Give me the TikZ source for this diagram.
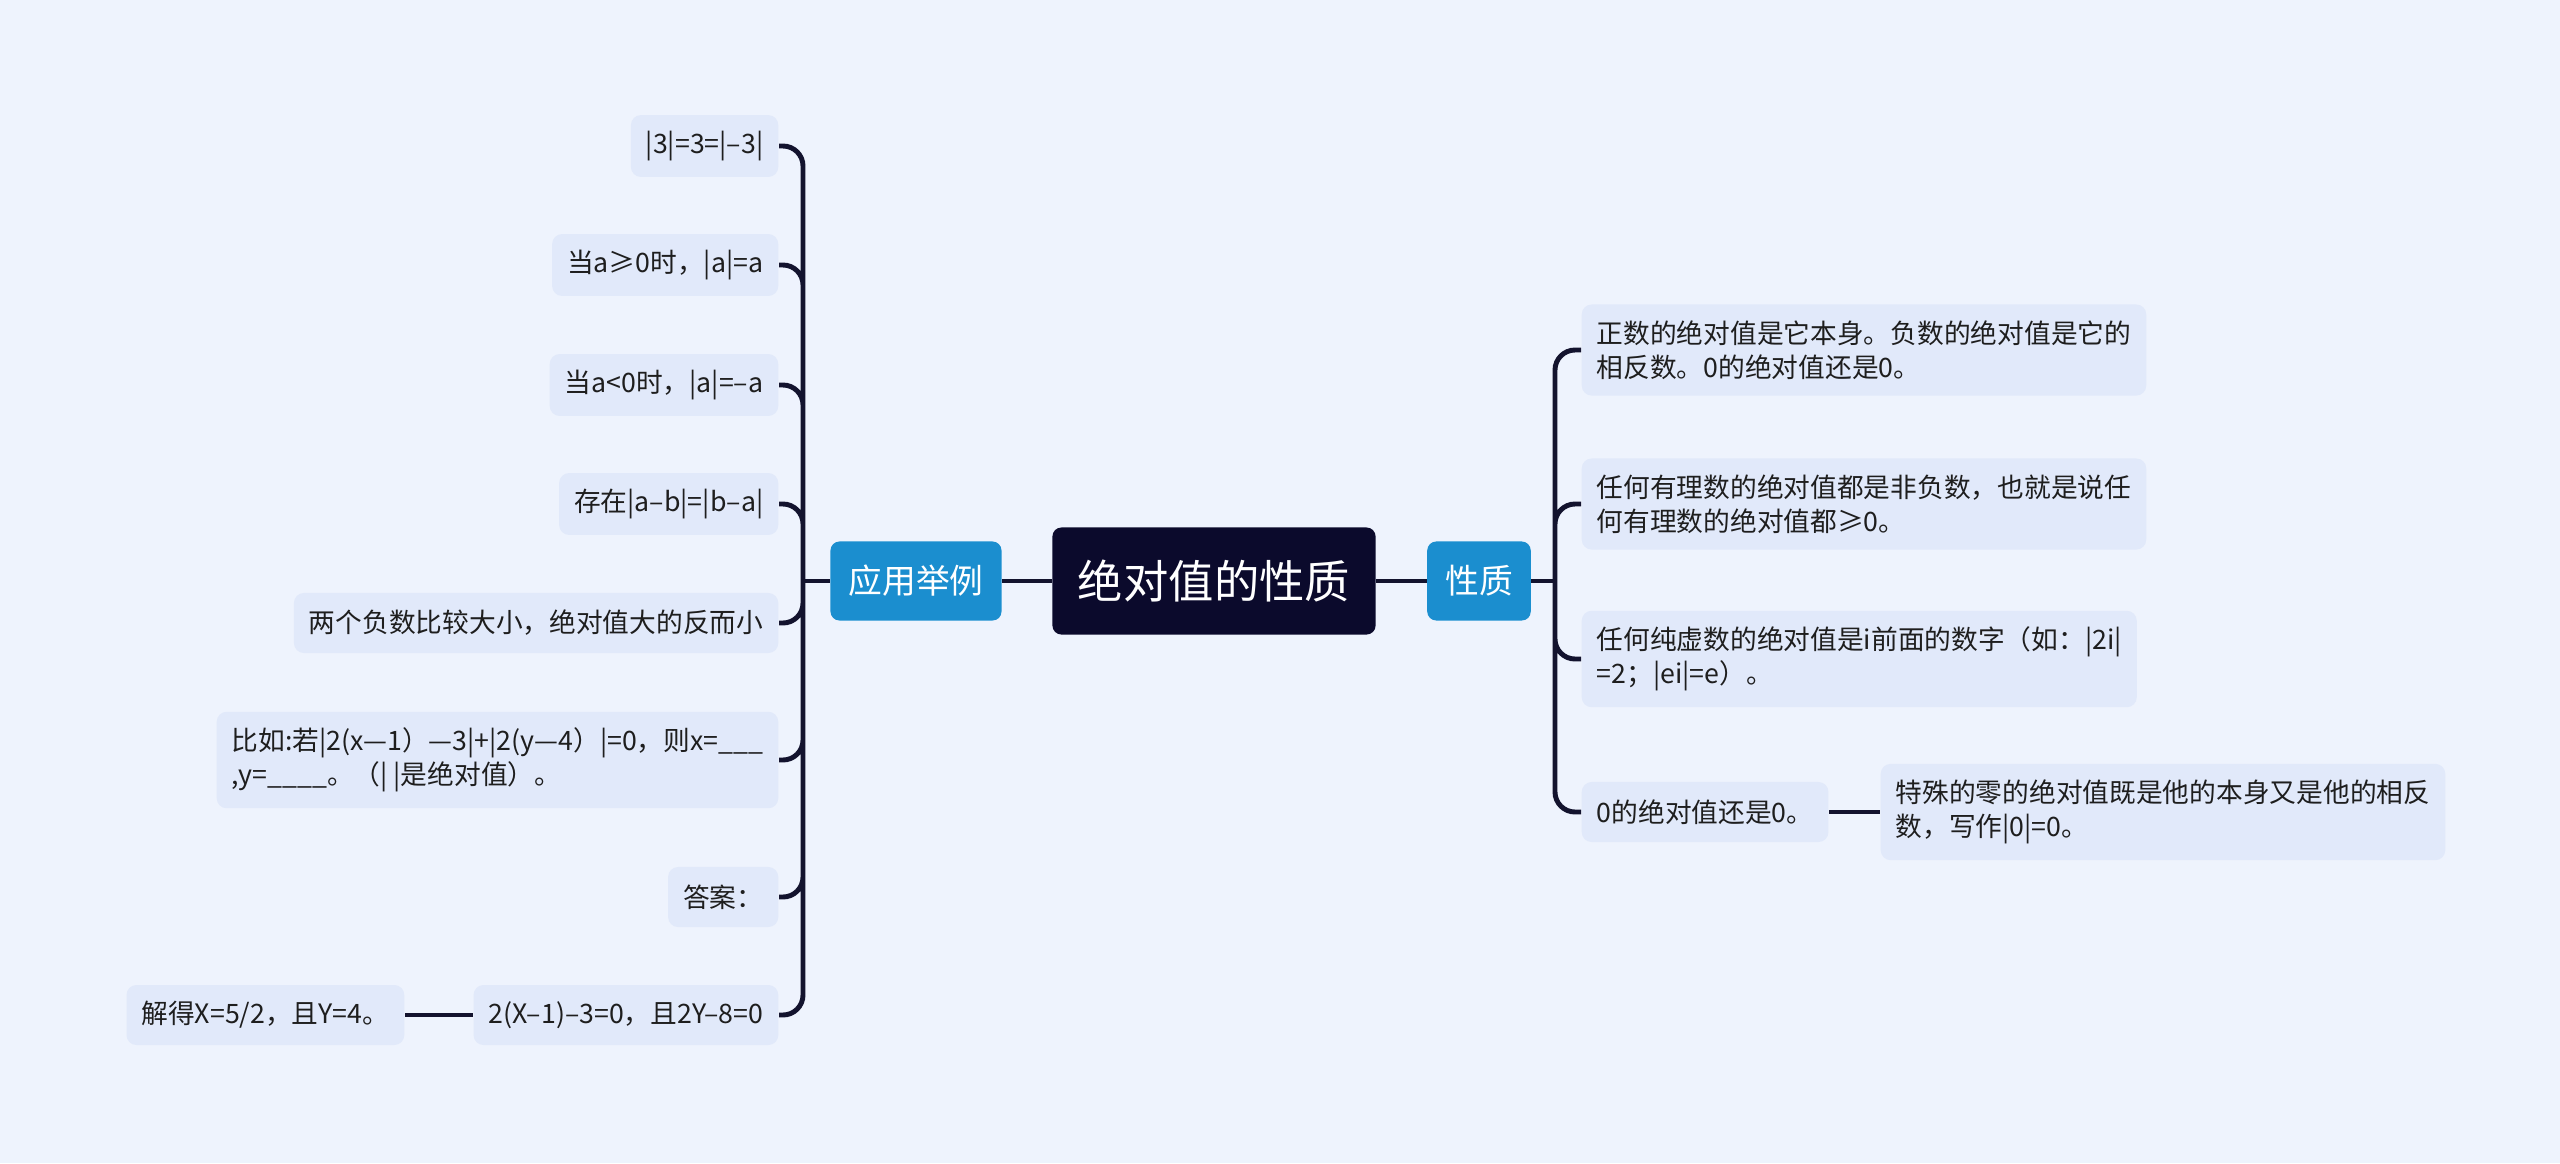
\documentclass[tikz,border=0pt]{standalone}
\usepackage{fontspec}
\setmainfont{Noto Sans CJK SC}
\usetikzlibrary{calc}
\definecolor{bg}{HTML}{EEF3FD}
\definecolor{leaffill}{HTML}{E1E9FA}
\definecolor{rootfill}{HTML}{0B0A2C}
\definecolor{midfill}{HTML}{1B8ECF}
\definecolor{linecol}{HTML}{13132E}
\definecolor{txt}{HTML}{1E1E1E}
\tikzset{root/.style={rectangle,rounded corners=0.09cm,fill=rootfill,text=white,minimum width=3.23cm,minimum height=1.07cm,inner sep=0pt,font={\fontsize{12.9}{15}\selectfont}},
  mid/.style={rectangle,rounded corners=0.09cm,fill=midfill,text=white,minimum height=0.79cm,inner xsep=0.18cm,inner ysep=0pt,font={\fontsize{9.6}{12}\selectfont}},
  leaf/.style={rectangle,rounded corners=0.1cm,fill=leaffill,text=txt,align=left,inner xsep=0.15cm,inner ysep=0.16cm,minimum height=0.6cm,font={\fontsize{7.6}{9.7}\selectfont}},
  conn/.style={draw=linecol,line width=1.4pt}}
\begin{document}
\begin{tikzpicture}[x=0.01cm,y=-0.01cm]
  \fill[bg] (0,0) rectangle (2560,1163);
  \useasboundingbox (0,0) rectangle (2560,1163);
  \node[root] (r) at (1214,581) {绝对值的性质};
  \node[mid] (p) at (1479,581) {性质};
  \node[mid] (a) at (916,581) {应用举例};
  % right side
  \node[leaf,anchor=west] (p1) at (1581,350) {正数的绝对值是它本身。负数的绝对值是它的\\相反数。0的绝对值还是0。};
  \node[leaf,anchor=west] (p2) at (1581,504) {任何有理数的绝对值都是非负数，也就是说任\\何有理数的绝对值都≥0。};
  \node[leaf,anchor=west] (p3) at (1581,659) {任何纯虚数的绝对值是i前面的数字（如：|2i|\\=2；|ei|=e）。};
  \node[leaf,anchor=west] (p4) at (1581,812) {0的绝对值还是0。};
  \node[leaf,anchor=west] (q) at (1880,812) {特殊的零的绝对值既是他的本身又是他的相反\\数，写作|0|=0。};
  % left side
  \node[leaf,anchor=east] (a1) at (779,146) {|3|=3=|–3|};
  \node[leaf,anchor=east] (a2) at (779,265) {当a≥0时，|a|=a};
  \node[leaf,anchor=east] (a3) at (779,385) {当a<0时，|a|=–a};
  \node[leaf,anchor=east] (a4) at (779,504) {存在|a–b|=|b–a|};
  \node[leaf,anchor=east] (a5) at (779,623) {两个负数比较大小，绝对值大的反而小};
  \node[leaf,anchor=east] (a6) at (779,760) {比如:若|2(x—1）—3|+|2(y—4）|=0，则x=\_\_\_\\,y=\_\_\_\_。（|\ |是绝对值）。};
  \node[leaf,anchor=east] (a7) at (779,897) {答案：};
  \node[leaf,anchor=east] (a8) at (779,1015) {2(X–1)–3=0，且2Y–8=0};
  \node[leaf,anchor=east] (b) at (405,1015) {解得X=5/2，且Y=4。};
  \coordinate (tp) at (1555,581);
  \coordinate (ta) at (803,581);
  \draw[conn] (r) -- (p) (p) -- (tp) (r) -- (a) (a) -- (ta)
    (p4) -- (q) (a8) -- (b);
  \draw[conn,rounded corners=0.2cm] (tp) |- (p1.west) (tp) |- (p2.west)
    (tp) |- (p3.west) (tp) |- (p4.west);
  \draw[conn,rounded corners=0.2cm] (ta) |- (a1.east) (ta) |- (a2.east)
    (ta) |- (a3.east) (ta) |- (a4.east) (ta) |- (a5.east)
    (ta) |- (a6.east) (ta) |- (a7.east) (ta) |- (a8.east);
\end{tikzpicture}
\end{document}
